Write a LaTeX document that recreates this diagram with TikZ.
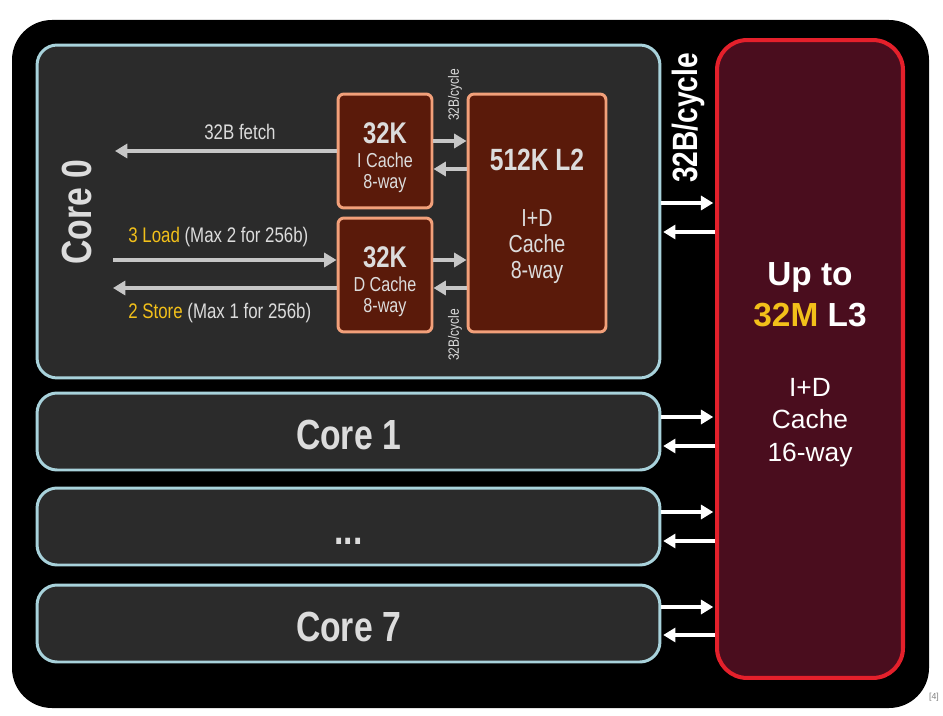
\documentclass[tikz,border=0pt]{standalone}
\usepackage{fontspec}
\setmainfont{Liberation Sans}
\newfontfamily\narrowsf{Liberation Sans}[FakeStretch=0.8]
\usetikzlibrary{arrows.meta}
\definecolor{coregray}{HTML}{2B2B2B}
\definecolor{coreline}{HTML}{A8D2DB}
\definecolor{cachefill}{HTML}{5A1A0A}
\definecolor{cacheline}{HTML}{F2A07A}
\definecolor{lthreefill}{HTML}{4A0D1E}
\definecolor{lthreeline}{HTML}{E4202B}
\definecolor{arrowgray}{HTML}{C6C6C6}
\definecolor{labelgray}{HTML}{DCDCDC}
\definecolor{loadyellow}{HTML}{F2C01A}

\begin{document}
\begin{tikzpicture}[x=0.02cm, y=-0.02cm,
    core/.style={rectangle, rounded corners=0.4cm, draw=coreline, line width=1.7pt, fill=coregray, minimum width=12.46cm, minimum height=1.54cm, text height=21pt, text depth=0pt, text=labelgray, font=\narrowsf\bfseries\fontsize{24}{28}\selectfont},
    cache/.style={rectangle, rounded corners=0.12cm, draw=cacheline, line width=1.7pt, fill=cachefill, align=center, text=labelgray, inner sep=0pt},
    small/.style={text=labelgray, inner sep=0pt, font=\narrowsf\fontsize{12}{14}\selectfont},
    garrow/.style={-{Triangle[length=7pt,width=8pt]}, line width=2.2pt, arrowgray},
    warrow/.style={-{Triangle[length=7pt,width=8pt]}, line width=2.2pt, white, shorten >=1pt}
]
\useasboundingbox (0,0) rectangle (943,716);
% Chip background
\fill[black, rounded corners=0.8cm] (12,20) rectangle (929,708);

% Cores
\node[core, minimum height=6.66cm] (core0) at (348.5,211.5) {};
\node[core] (core1) at (348.5,431.5) {Core 1};
\node[core] (dots) at (348.5,526.5) {...};
\node[core] (core7) at (348.5,623.5) {Core 7};
\node[rotate=90, text=labelgray, font=\narrowsf\bfseries\fontsize{24}{28}\selectfont] (core0label) at (77,212) {Core 0};

% L1 and L2 caches
\node[cache, minimum width=1.88cm, minimum height=2.28cm, font=\narrowsf\fontsize{11.5}{12}\selectfont] (icache) at (385,151)
  {{\bfseries\fontsize{17}{17}\selectfont\rule{0pt}{19pt}32K}\\[1.6pt]I Cache\\8-way};
\node[cache, minimum width=1.88cm, minimum height=2.28cm, font=\narrowsf\fontsize{11.5}{12}\selectfont] (dcache) at (385,275)
  {{\bfseries\fontsize{17}{17}\selectfont\rule{0pt}{19pt}32K}\\[1.6pt]D Cache\\8-way};
\node[cache, minimum width=2.76cm, minimum height=4.76cm, font=\narrowsf\fontsize{14}{14.8}\selectfont] (ltwo) at (537,213)
  {{\bfseries\fontsize{17.5}{17.5}\selectfont\rule{0pt}{16pt}512K L2}\\[17pt]I+D\\Cache\\8-way};

% L3
\node[rectangle, rounded corners=0.6cm, draw=lthreeline, line width=2.3pt, fill=lthreefill, minimum width=3.72cm, minimum height=12.76cm,
  align=center, text=white, font=\fontsize{15}{18.7}\selectfont] (lthree) at (810,359)
  {{\bfseries\fontsize{19}{19}\selectfont\rule{0pt}{20pt}Up to}\\[4.3pt]{\bfseries\fontsize{19}{19}\selectfont\textcolor{loadyellow}{32M} L3}\\[21pt]I+D\\Cache\\16-way};

% Labels
\node[rotate=90, text=white, font=\narrowsf\bfseries\fontsize{20}{22}\selectfont] (buswidth) at (688,118) {32B/cycle};
\node[rotate=90, text=labelgray, font=\narrowsf\fontsize{8.5}{9}\selectfont] (ibus) at (455,95) {32B/cycle};
\node[rotate=90, text=labelgray, font=\narrowsf\fontsize{8.5}{9}\selectfont] (dbus) at (455,335) {32B/cycle};
\node[small] (fetch) at (240,132) {32B fetch};
\node[small, anchor=west] (load) at (128,237) {\textcolor{loadyellow}{3 Load} (Max 2 for 256b)};
\node[small, anchor=west] (store) at (128,313) {\textcolor{loadyellow}{2 Store} (Max 1 for 256b)};
\node[text=gray, inner sep=0pt, font=\fontsize{5}{6}\selectfont] (ref) at (934,697) {[4]};

% Arrows inside core 0
\coordinate (fetchend) at (115,151);
\coordinate (loadstart) at (113,260);
\coordinate (storeend) at (113,288);
\draw[garrow] (icache.west) -- (fetchend);
\draw[garrow] (loadstart) -- (dcache.west |- loadstart);
\draw[garrow] (dcache.west |- storeend) -- (storeend);
\draw[garrow] (icache.east |- 0,141) -- (ltwo.west |- 0,141);
\draw[garrow] (ltwo.west |- 0,169) -- (icache.east |- 0,169);
\draw[garrow] (dcache.east |- 0,260) -- (ltwo.west |- 0,260);
\draw[garrow] (ltwo.west |- 0,288) -- (dcache.east |- 0,288);

% Arrows to L3
\foreach \c/\ya/\yb in {core0/203/232, core1/417/446, dots/512/541, core7/607/635} {
  \draw[warrow] (\c.east |- 0,\ya) -- (lthree.west |- 0,\ya);
  \draw[warrow] (lthree.west |- 0,\yb) -- (\c.east |- 0,\yb);
}
\end{tikzpicture}
\end{document}
